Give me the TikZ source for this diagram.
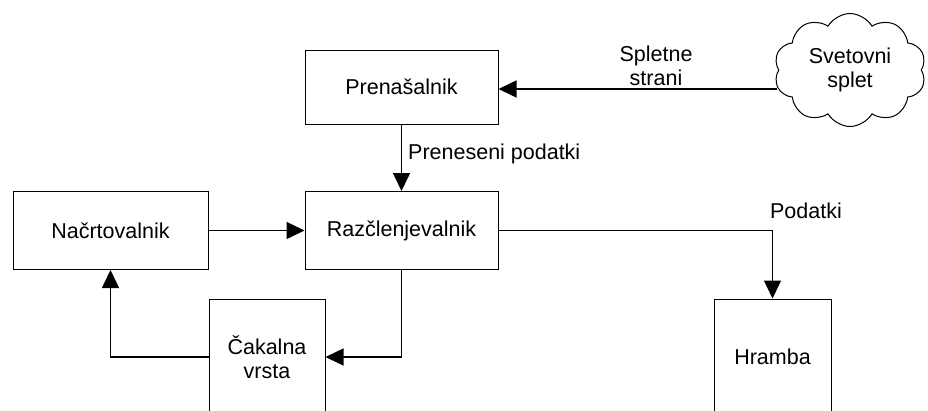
\documentclass[tikz,border=0pt]{standalone}
\usepackage{fontspec}
\setmainfont{Liberation Sans}
\usetikzlibrary{shapes.symbols,arrows.meta}
\begin{document}
\begin{tikzpicture}[x=1pt,y=-1pt,
  every node/.style={font=\fontsize{21.5}{24.5}\selectfont},
  box/.style={draw, line width=1pt, inner sep=0pt, align=center},
  arr/.style={line width=1.5pt, -{Triangle[length=18pt,width=17pt]}},
  lbl/.style={inner sep=0pt, align=center}]
\useasboundingbox (0,0) rectangle (928,410);
\clip (0,0) rectangle (928,410);
\node[box, minimum width=193pt, minimum height=74pt] (pren) at (401.5,87) {Prenašalnik};
\node[box, minimum width=193pt, minimum height=78pt] (razc) at (401.5,230.5) {Razčlenjevalnik};
\node[box, minimum width=195pt, minimum height=78pt] (nacrt) at (110.5,230.5) {Načrtovalnik};
\node[box, minimum width=116pt, minimum height=116pt] (cak) at (267,357) {Čakalna\\vrsta};
\node[box, minimum width=117pt, minimum height=116pt] (hram) at (772.5,357) {Hramba};
\node[cloud, draw, line width=1pt, cloud puffs=10, cloud puff arc=120, aspect=1.34,
      minimum width=152pt, minimum height=113pt, align=center] (web) at (850,70) {Svetovni\\splet};
\coordinate (cl) at (777,89);
\draw[arr] (cl) -- (cl -| pren.east);
\draw[arr] (pren.south) -- (razc.north);
\draw[arr] (nacrt.east) -- (razc.west);
\draw[arr] (razc.east) -| (hram.north);
\draw[arr] (razc.south) |- (cak.east);
\draw[arr] (cak.west) -| (nacrt.south);
\node[lbl, anchor=south, text depth=0pt] (l1) at (656,86) {Spletne\\strani};
\node[lbl, anchor=base west] (l2) at (408,159) {Preneseni podatki};
\node[lbl, anchor=base] (l3) at (806,218) {Podatki};
\end{tikzpicture}
\end{document}
